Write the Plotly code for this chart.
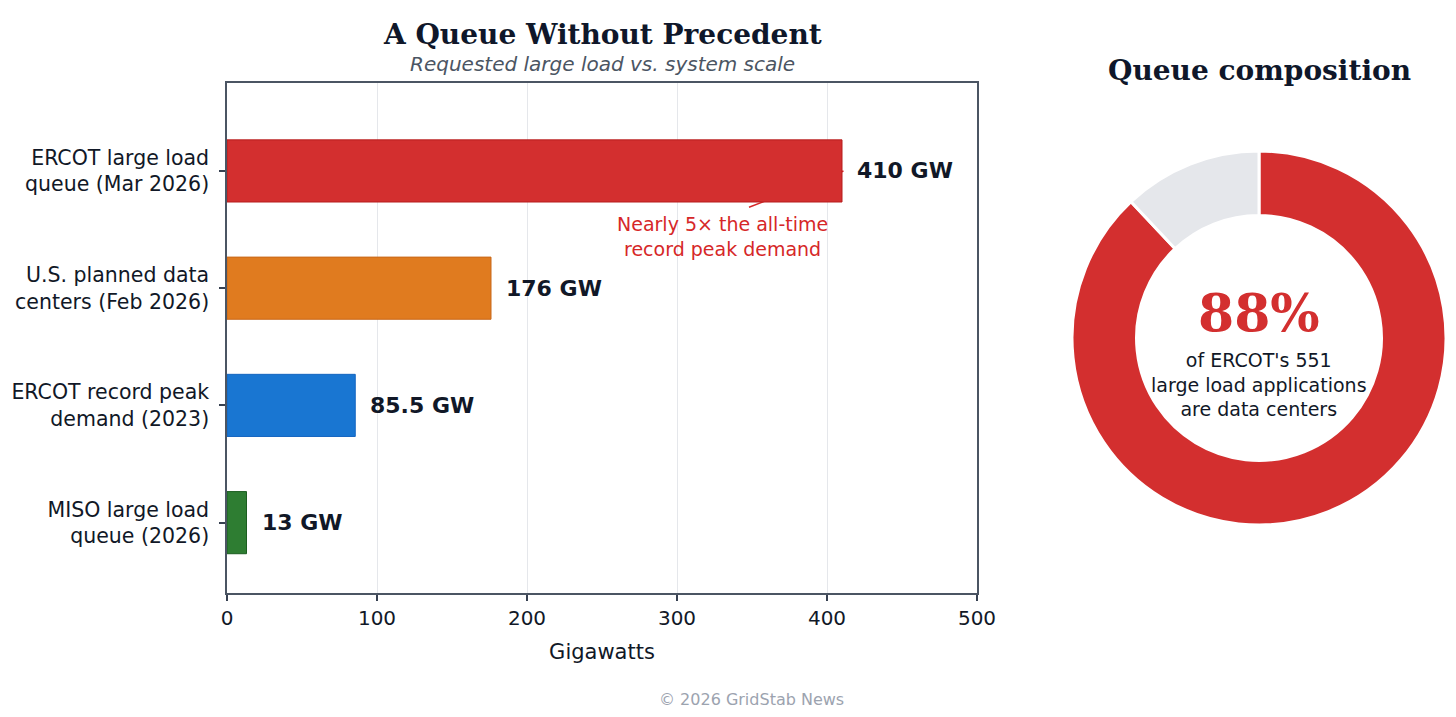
import plotly.graph_objects as go

# ---- data ----
categories = ["MISO large load<br>queue (2026)",
              "ERCOT record peak<br>demand (2023)",
              "U.S. planned data<br>centers (Feb 2026)",
              "ERCOT large load<br>queue (Mar 2026)"]
values = [13, 85.5, 176, 410]
value_labels = ["13 GW", "85.5 GW", "176 GW", "410 GW"]
bar_colors = ["#2e7d32", "#1976d2", "#e07b1f", "#d32f2f"]
bar_edges = ["#1b5e20", "#1565c0", "#c8681a", "#b71c1c"]
x_ticks = [0, 100, 200, 300, 400, 500]

pie_labels = ["Data centers", "Other"]
pie_values = [88, 12]
pie_colors = ["#d32f2f", "#e5e7eb"]

FONT = "DejaVu Sans"
SERIF = "DejaVu Serif"
DARK = "#111827"

W, H, OFF = 1440, 701, 8


def px(X):
    return (X - OFF) / W


def py(Y):
    return 1 - (Y - OFF) / H


fig = go.Figure()

fig.add_trace(go.Bar(
    x=values, y=categories, orientation="h", width=0.53,
    marker=dict(color=bar_colors, line=dict(color=bar_edges, width=1)),
    hoverinfo="skip", showlegend=False,
))

for v, lab, c in zip(values, value_labels, categories):
    fig.add_annotation(x=v, y=c, text=lab, xanchor="left", yanchor="middle",
                       xshift=13, showarrow=False,
                       font=dict(family=FONT, size=22, color=DARK, weight="bold"))

# callout
fig.add_annotation(x=330, y=2.44, xref="x", yref="y",
                   xanchor="center", yanchor="middle",
                   text="Nearly 5× the all-time<br>record peak demand",
                   showarrow=False, font=dict(family=FONT, size=19, color="#d62728"),
                   align="center")
fig.add_shape(type="line", x0=348, y0=2.69, x1=411, y1=3.0, xref="x", yref="y",
              line=dict(color="#d62728", width=1.5), layer="below")

R = 187
CX, CY = 1259, 338
fig.add_trace(go.Pie(
    labels=pie_labels, values=pie_values, hole=0.655, sort=False,
    direction="clockwise", rotation=0,
    marker=dict(colors=pie_colors, line=dict(color="white", width=3)),
    textinfo="none", hoverinfo="skip", showlegend=False,
    domain=dict(x=[px(CX - R), px(CX + R)], y=[py(CY + R), py(CY - R)]),
))


def label(X, Y, text, font):
    fig.add_annotation(x=px(X), y=py(Y), xref="paper", yref="paper",
                       xanchor="center", yanchor="middle", align="center",
                       text=text, showarrow=False, font=font)


# donut center texts
label(1259, 312, f"{pie_values[0]}%",
      dict(family=SERIF, size=52, color="#d32f2f", weight="bold"))
label(1259, 384, "of ERCOT's 551<br>large load applications<br>are data centers",
      dict(family=FONT, size=19, color=DARK))

# titles
label(602, 35, "A Queue Without Precedent",
      dict(family=SERIF, size=28, color="#0f172a", weight="bold"))
label(602, 64, "<i>Requested large load vs. system scale</i>",
      dict(family=FONT, size=20, color="#4b5563"))
label(1259, 70, "Queue composition",
      dict(family=SERIF, size=28, color="#0f172a", weight="bold"))
label(751, 699, "© 2026 GridStab News",
      dict(family=FONT, size=16, color="#9ca3af"))

fig.update_layout(
    width=W, height=H,
    margin=dict(l=0, r=0, t=0, b=0, autoexpand=False),
    paper_bgcolor="white", plot_bgcolor="white",
    font=dict(family=FONT, color=DARK),
    xaxis=dict(domain=[px(227), px(977)], range=[0, 500],
               tickvals=x_ticks, ticks="outside", ticklen=6, tickcolor="#374151",
               tickwidth=1.5,
               tickfont=dict(family=FONT, size=20, color=DARK),
               showgrid=True, gridcolor="#e5e7eb", gridwidth=1,
               showline=True, linecolor="#4b5563", linewidth=1.5, mirror=True,
               zeroline=False, automargin=False,
               title=dict(text="Gigawatts", font=dict(family=FONT, size=21, color=DARK),
                          standoff=16)),
    yaxis=dict(domain=[py(593), py(83)], range=[-0.6, 3.75],
               categoryorder="array", categoryarray=categories,
               ticks="outside", ticklen=6, tickcolor="#374151", tickwidth=1.5,
               ticklabelstandoff=6,
               tickfont=dict(family=FONT, size=20.5, color=DARK),
               showgrid=False, showline=True, linecolor="#4b5563", linewidth=1.5,
               mirror=True, zeroline=False, automargin=False),
)

fig.write_html("out.html")
